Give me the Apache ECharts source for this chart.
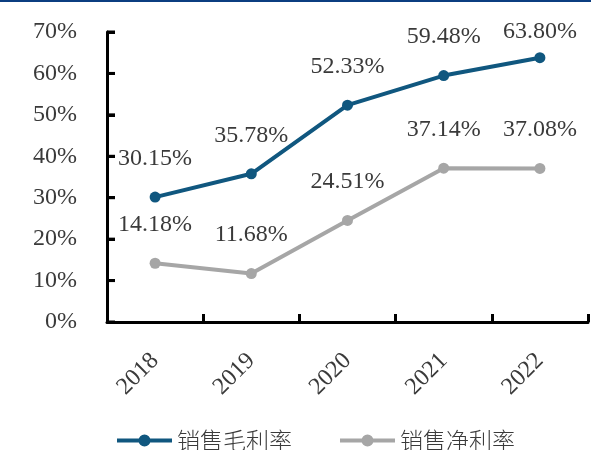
<!DOCTYPE html>
<html><head><meta charset="utf-8">
<script src="https://cdn.jsdelivr.net/npm/echarts@6/dist/echarts.min.js"></script>
<style>html,body{margin:0;padding:0;background:#fff}#c{width:591px;height:450px}</style>
</head><body><div id="c"></div>
<script>
var categories = ['2018', '2019', '2020', '2021', '2022'];
var grossMargin = [30.15, 35.78, 52.33, 59.48, 63.80];
var netMargin = [14.18, 11.68, 24.51, 37.14, 37.08];
var seriesNames = ['销售毛利率', '销售净利率'];
var yTicks = { min: 0, max: 70, interval: 10 };
var yTickValues = [0, 10, 20, 30, 40, 50, 60, 70];

var serif = '"Liberation Serif", "Times New Roman", "Noto Sans CJK SC", serif';
var cjk = '"Noto Sans CJK SC", sans-serif';
var textColor = '#3a3a3a';
var iconPath = 'path://M0,4 L55,4 L55,8 L0,8 Z M21.5,6 A6,6 0 1,1 33.5,6 A6,6 0 1,1 21.5,6 Z';

function mkData(arr, lastDist) {
  return arr.map(function (v, i) {
    var d = { value: v };
    if (lastDist != null && i === arr.length - 1) d.label = { distance: lastDist };
    return d;
  });
}

var chart = echarts.init(document.getElementById('c'));
chart.setOption({
  animation: false,
  graphic: [{ type: 'rect', left: 0, top: 0, shape: { width: 591, height: 2 }, style: { fill: '#0b3d80' } }],
  grid: { left: 107, right: 3, top: 32, bottom: 128, containLabel: false },
  legend: {
    bottom: -2, left: 117, padding: 0,
    itemWidth: 55, itemHeight: 12, itemGap: 48,
    textStyle: { fontFamily: cjk, fontSize: 23, fontWeight: 300, color: textColor },
    data: seriesNames.map(function (n) { return { name: n, icon: iconPath }; })
  },
  xAxis: {
    type: 'category', data: categories, boundaryGap: true,
    axisLine: { show: true, lineStyle: { color: '#000', width: 3 } },
    axisTick: { show: true, inside: true, length: 8, lineStyle: { color: '#000', width: 3 }, alignWithLabel: false, interval: 0 },
    axisLabel: { rotate: 45, margin: 35, fontFamily: serif, fontSize: 24, color: textColor, interval: 0 }
  },
  yAxis: {
    type: 'value', min: yTicks.min, max: yTicks.max, interval: yTicks.interval,
    splitLine: { show: false },
    axisLine: { show: true, lineStyle: { color: '#000', width: 3 } },
    axisTick: { show: true, inside: true, length: 8, interval: 0, lineStyle: { color: '#000', width: 3 } },
    axisLabel: { formatter: '{value}%', margin: 30, fontFamily: serif, fontSize: 24, color: textColor }
  },
  series: [
    {
      name: seriesNames[0], type: 'line', data: mkData(grossMargin, 8),
      symbol: 'circle', symbolSize: 11, z: 3,
      lineStyle: { color: '#10577f', width: 4 }, itemStyle: { color: '#10577f' },
      label: { show: true, position: 'top', distance: 21, fontFamily: serif, fontSize: 24, color: textColor,
        formatter: function (p) { return p.value.toFixed(2) + '%'; } }
    },
    {
      name: seriesNames[1], type: 'line', data: mkData(netMargin),
      symbol: 'circle', symbolSize: 11, z: 3,
      lineStyle: { color: '#a6a6a6', width: 4 }, itemStyle: { color: '#a6a6a6' },
      label: { show: true, position: 'top', distance: 21, fontFamily: serif, fontSize: 24, color: textColor,
        formatter: function (p) { return p.value.toFixed(2) + '%'; } }
    },
    {
      name: 'yAxisTicks', type: 'custom', silent: true, z: 10, clip: false,
      data: yTickValues.map(function (v) { return [0, v]; }),
      encode: { x: 0, y: 1 },
      renderItem: function (params, api) {
        var pt = api.coord([api.value(0), api.value(1)]);
        var band = api.size([1, 0])[0];
        var ax = pt[0] - band / 2;
        return {
          type: 'line',
          shape: { x1: ax, y1: pt[1], x2: ax + 8, y2: pt[1] },
          style: { stroke: '#000', lineWidth: 3 }
        };
      }
    }
  ]
});
</script></body></html>
